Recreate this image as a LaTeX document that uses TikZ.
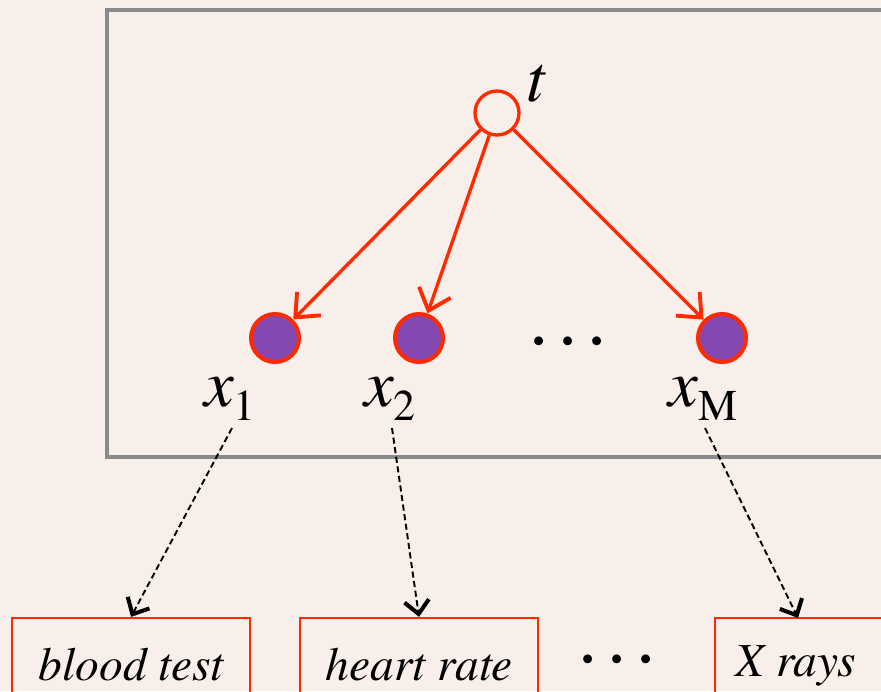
\documentclass[tikz,border=0pt]{standalone}
\usepackage{fontspec}
\setmainfont{TeX Gyre Termes}
\usetikzlibrary{arrows.meta}
\definecolor{bgc}{HTML}{F8EEEA}
\definecolor{redc}{HTML}{FF2A00}
\definecolor{purp}{HTML}{8448B0}
\definecolor{plate}{HTML}{8A8A8A}
\tikzset{
  latent/.style={circle, draw=redc, line width=1.9pt, fill=bgc, minimum size=44*0.02cm, inner sep=0pt},
  obs/.style={circle, draw=redc, line width=2.3pt, fill=purp, minimum size=48*0.02cm, inner sep=0pt},
  edge/.style={draw=redc, line width=1.9pt, -{Straight Barb[length=11pt,width=19pt,line width=2.2pt]}},
  dashlink/.style={draw=black, line width=1.1pt, dash pattern=on 3.5pt off 2pt, -{Straight Barb[length=7.5pt,width=14pt,line width=2.3pt]}},
  infobox/.style={rectangle, draw=redc, line width=1.3pt, minimum width=238*0.02cm, minimum height=100*0.02cm, inner sep=0pt, font=\fontsize{27}{30}\selectfont\itshape},
  mlab/.style={inner sep=0pt, font=\fontsize{38}{40}\selectfont},
  dotsnode/.style={inner sep=0pt, font=\fontsize{30}{32}\selectfont\bfseries}
}
\newcommand{\varlab}[1]{\textit{x}\raisebox{-8pt}{\fontsize{25}{28}\selectfont #1}}
\newcommand{\mydots}{·\hspace{9pt}·\hspace{9pt}·}
\begin{document}
\begin{tikzpicture}[x=0.02cm,y=-0.02cm]
\useasboundingbox (0,0) rectangle (881,691);
\fill[bgc] (0,0) rectangle (881,691);
\clip (0,0) rectangle (881,691);
% plate
\draw[plate, line width=2.4pt] (900,10) -- (107,10) -- (107,457) -- (900,457);
% nodes
\node[latent] (t) at (497,113) {};
\node[mlab, anchor=base west] (tl) at (526,101) {\textit{t}};
\node[obs] (x1) at (275,338) {};
\node[obs] (x2) at (419,338) {};
\node[obs] (xM) at (722,338) {};
\node[dotsnode] (d1) at (568,346) {\mydots};
\node[mlab, anchor=base] (l1) at (230,406) {\varlab{1}};
\node[mlab, anchor=base] (l2) at (390,406) {\varlab{2}};
\node[mlab, anchor=base] (lM) at (703,406) {\varlab{M}};
% edges
\draw[edge] (t) -- (x1);
\draw[edge] (t) -- (x2);
\draw[edge] (t) -- (xM);
% boxes
\node[infobox] (b1) at (131,668) {\raisebox{4pt}{blood test}\hspace{8pt}};
\node[infobox] (b2) at (419,668) {\raisebox{4pt}{heart rate}\hspace{4pt}};
\node[infobox, minimum width=290*0.02cm] (b3) at (860,668) {};
\node[inner sep=0pt, font=\fontsize{27}{30}\selectfont\itshape, anchor=base west] (b3t) at (735,676) {X rays};
\node[dotsnode] (d2) at (617,664) {\mydots};
% dashed connectors
\coordinate (s1) at (232,428);
\coordinate (s2) at (392,428);
\coordinate (s3) at (705,428);
\coordinate (e3) at (798,618);
\draw[dashlink] (s1) -- (b1.north);
\draw[dashlink] (s2) -- (b2.north);
\draw[dashlink] (s3) -- (e3);
\end{tikzpicture}
\end{document}
